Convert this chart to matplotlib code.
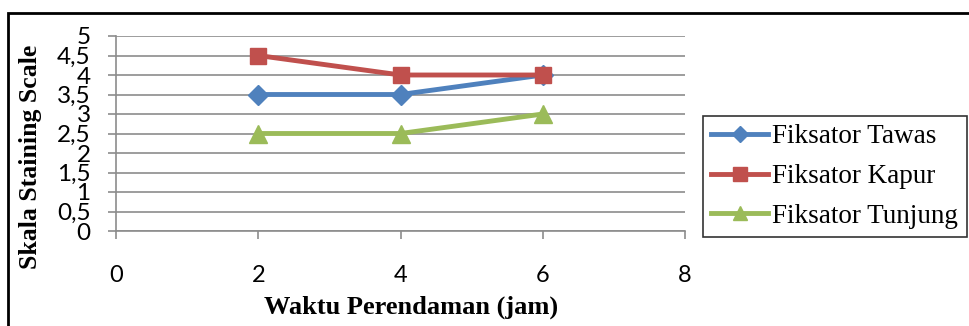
import matplotlib.pyplot as plt
from matplotlib.patches import Rectangle
from matplotlib.ticker import FuncFormatter

# data
waktu = [2, 4, 6]
tawas = [3.5, 3.5, 4]
kapur = [4.5, 4, 4]
tunjung = [2.5, 2.5, 3]
label_seri = ["Fiksator Tawas", "Fiksator Kapur", "Fiksator Tunjung"]

W, H = 969, 326
fig = plt.figure(figsize=(W / 100, H / 100), dpi=100)

# bingkai luar
fig.patches.append(Rectangle((8 / W, -0.1), 1.1, 1 - 13 / H + 0.1, transform=fig.transFigure,
                             fill=False, edgecolor="black", linewidth=2))

ax = fig.add_axes([116 / W, 1 - 231 / H, (685 - 116) / W, (231 - 36) / H])

ax.plot(waktu, tawas, color="#4F81BD", lw=3.5, marker="D", ms=10, label=label_seri[0])
ax.plot(waktu, kapur, color="#C0504D", lw=3.5, marker="s", ms=12, label=label_seri[1])
ax.plot(waktu, tunjung, color="#9BBB59", lw=3.5, marker="^", ms=13, label=label_seri[2])

ax.set_xlim(0, 8)
ax.set_ylim(0, 5)
ax.set_xticks([0, 2, 4, 6, 8])
ax.set_yticks([i * 0.5 for i in range(11)])
ax.yaxis.set_major_formatter(FuncFormatter(lambda v, p: ("%g" % v).replace(".", ",")))
ax.grid(axis="y", color="#8c8c8c", lw=1.2)
for s in ["top", "right"]:
    ax.spines[s].set_visible(False)
ax.spines["left"].set_color("#8c8c8c")
ax.spines["bottom"].set_color("#8c8c8c")
ax.spines["left"].set_linewidth(1.2)
ax.spines["bottom"].set_linewidth(1.2)
ax.tick_params(axis="both", colors="#8c8c8c", width=1.2, length=5.8, labelcolor="black")
ax.tick_params(axis="y", labelsize=17.5, pad=12.5)
ax.tick_params(axis="x", labelsize=17, pad=19)
for t in ax.get_xticklabels() + ax.get_yticklabels():
    t.set_family("Lato")

ax.set_ylabel("Skala Staining Scale", family="Liberation Serif", fontweight="bold", fontsize=18.5)
ax.yaxis.set_label_coords(-(116 - 42) / (685 - 116), (231 - 157) / (231 - 36))
ax.set_xlabel("Waktu Perendaman (jam)", family="Liberation Serif", fontweight="bold", fontsize=19)
ax.xaxis.set_label_coords((411 - 116) / (685 - 116), -(296 - 231) / (231 - 36))

leg = ax.legend(loc="center", bbox_to_anchor=(703 / W, 1 - 234 / H, (967 - 703) / W, (234 - 119) / H),
                bbox_transform=fig.transFigure, mode="expand", frameon=True, fancybox=False,
                prop={"family": "Liberation Serif", "size": 19.5}, handlelength=2.1, handletextpad=0.15,
                borderaxespad=0, labelspacing=0.55, borderpad=0.3, markerscale=0.8)
leg.get_frame().set_edgecolor("black")
leg.get_frame().set_linewidth(1.2)

fig.savefig("out.png", dpi=100)
